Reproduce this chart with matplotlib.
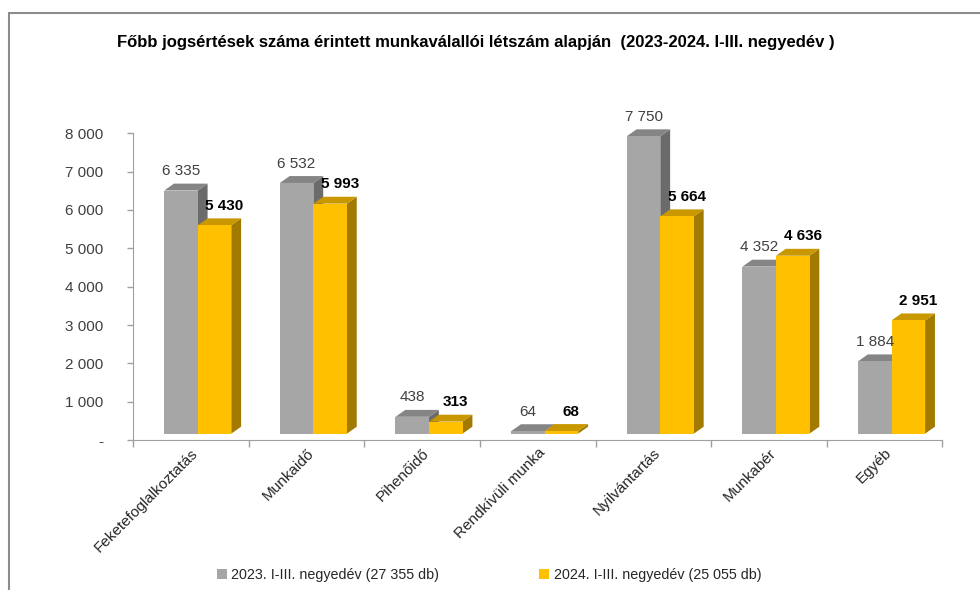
import numpy as np
import matplotlib.pyplot as plt
from matplotlib.patches import Polygon, Patch, Rectangle

categories = ["Feketefoglalkoztatás", "Munkaidő", "Pihenőidő", "Rendkívüli munka",
              "Nyilvántartás", "Munkabér", "Egyéb"]
vals_2023 = [6335, 6532, 438, 64, 7750, 4352, 1884]
vals_2024 = [5430, 5993, 313, 68, 5664, 4636, 2951]
yticks = [0, 1000, 2000, 3000, 4000, 5000, 6000, 7000, 8000]
legend_labels = ["2023. I-III. negyedév (27 355 db)", "2024. I-III. negyedév (25 055 db)"]
title = "Főbb jogsértések száma érintett munkaválallói létszám alapján  (2023-2024. I-III. negyedév )"

plt.rcParams['font.family'] = ["Liberation Sans", "DejaVu Sans"]

# szinek: elolap, teteje, oldala
gray = ("#A6A6A6", "#858585", "#6B6B6B")
yellow = ("#FFC000", "#C99700", "#A37A00")

fig = plt.figure(figsize=(9.8, 5.9), dpi=100)
ax = fig.add_axes([0.1357, 0.254, 0.826, 0.5203])

x = np.arange(len(categories))
w = 0.29
shift = 0.06
dx = 0.085   # melyseg vizszintesen (kategoria egyseg)
dy = 180     # melyseg fuggolegesen (adat egyseg)
floor = 170  # a padlo elso elenek emelese


def bar3d(xc, h, cols):
    x0, x1 = xc - w / 2, xc + w / 2
    b, t = floor, floor + h
    side = Polygon([(x1, b), (x1 + dx, b + dy), (x1 + dx, t + dy), (x1, t)],
                   closed=True, facecolor=cols[2], edgecolor='none', clip_on=False)
    top = Polygon([(x0, t), (x0 + dx, t + dy), (x1 + dx, t + dy), (x1, t)],
                  closed=True, facecolor=cols[1], edgecolor='none', clip_on=False)
    ax.add_patch(side)
    ax.add_patch(top)
    ax.bar(xc, h, bottom=b, width=w, color=cols[0], clip_on=False)


for i in range(len(categories)):
    xg = x[i] + shift - w / 2
    xy = x[i] + shift + w / 2
    bar3d(xg, vals_2023[i], gray)
    bar3d(xy, vals_2024[i], yellow)
    ax.annotate(f"{vals_2023[i]:,}".replace(",", " "), (xg, floor + vals_2023[i] + dy),
                xytext=(0, 4), textcoords='offset points', ha='center', va='bottom',
                fontsize=11, color='#404040', annotation_clip=False)
    ax.annotate(f"{vals_2024[i]:,}".replace(",", " "), (xy + dx, floor + vals_2024[i] + dy),
                xytext=(0, 4), textcoords='offset points', ha='center', va='bottom',
                fontsize=11, color='black', fontweight='bold', annotation_clip=False)

ax.set_xlim(-0.5, len(categories) - 0.5)
ax.set_ylim(0, 8000)
ax.set_yticks(yticks)
ax.set_yticklabels(["-" if v == 0 else f"{v:,}".replace(",", " ") for v in yticks],
                   fontsize=11, color='#404040')
ax.set_xticks(np.arange(len(categories) + 1) - 0.5)
ax.set_xticklabels([])
ax.tick_params(axis='x', length=5, color='#A0A0A0', width=1)
ax.tick_params(axis='y', length=4, color='#A0A0A0', width=1, pad=17.5)
for xi, lab in zip(x, categories):
    ax.text(xi, -150, lab, rotation=45, rotation_mode='anchor', ha='right', va='top',
            fontsize=11, color='#262626')

for s in ['top', 'right']:
    ax.spines[s].set_visible(False)
for s in ['left', 'bottom']:
    ax.spines[s].set_color('#A0A0A0')

fig.text(0.486, 0.928, title, ha='center', va='center', fontsize=12, fontweight='bold',
         color='black')

handles = [Patch(facecolor=gray[0]), Patch(facecolor=yellow[0])]
fig.legend(handles, legend_labels, loc='center', bbox_to_anchor=(0.499, 0.025), ncol=2,
           frameon=False, fontsize=10.3, handlelength=0.7, handleheight=0.7,
           handletextpad=0.3, columnspacing=7, labelcolor='#262626')

# keret
fig.patches.append(Rectangle((9 / 980, -0.1), 1.2, 1 - 13 / 590 + 0.1, transform=fig.transFigure,
                             fill=False, edgecolor='#8C8C8C', linewidth=1.5, clip_on=False))

fig.savefig("out.png", dpi=100)
